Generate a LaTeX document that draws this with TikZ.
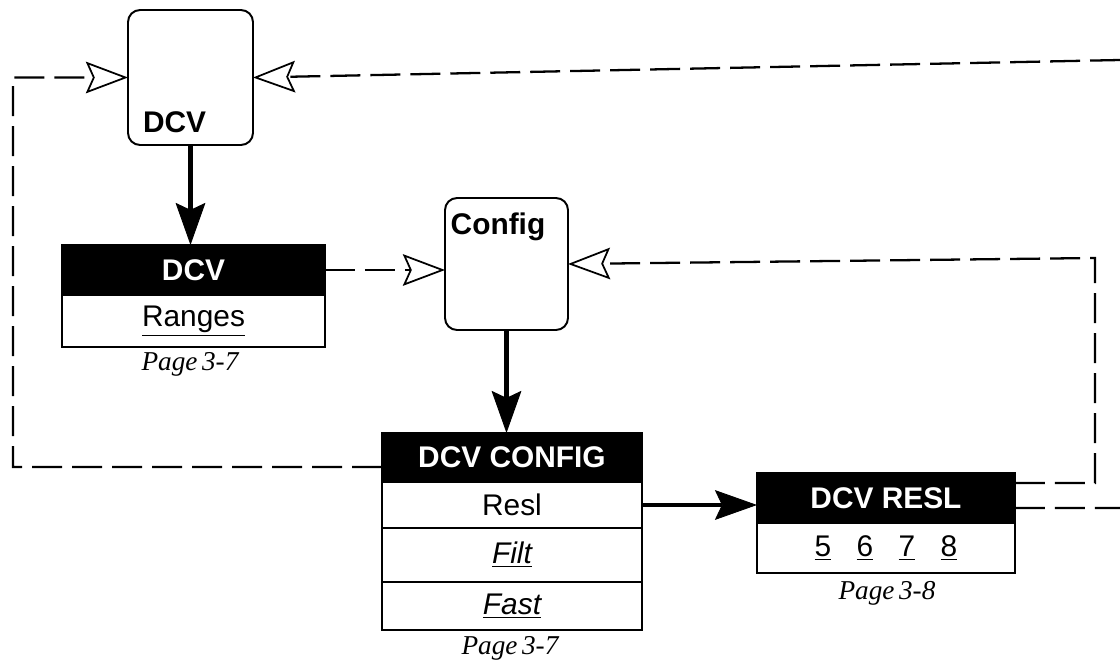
\documentclass[tikz,border=0pt]{standalone}
\usepackage{fontspec}
\newfontfamily\hvfont{Liberation Sans}
\newfontfamily\tmfont{Liberation Serif}
\usetikzlibrary{arrows.meta,calc}
\begin{document}
\begin{tikzpicture}[x=0.02cm,y=-0.02cm,
  every node/.style={inner sep=0pt, outer sep=0pt},
  sfont/.style={font=\hvfont\fontsize{17}{20}\selectfont},
  bfont/.style={font=\hvfont\bfseries\fontsize{17}{20}\selectfont},
  keybox/.style={draw, rounded corners=0.24cm, line width=1.1pt, fill=white},
  hdr/.style={draw, fill=black, text=white, line width=1pt, bfont},
  row/.style={draw, fill=white, line width=1pt, sfont},
  pagelbl/.style={font=\tmfont\itshape\fontsize{15.5}{18}\selectfont, anchor=base},
  flow/.style={line width=2.5pt, -{Stealth[length=24pt,width=17pt,inset=4pt,line width=0.5pt]}},
  link/.style={line width=1.3pt, dash pattern=on 0.6cm off 0.2cm, -{Stealth[open,fill=white,length=24pt,width=18pt,inset=4pt,line width=1pt]}},
  loopline/.style={line width=1.3pt, dash pattern=on 0.6cm off 0.2cm},
]
\useasboundingbox (0,0) rectangle (1120,663);

% soft keys
\node[keybox, minimum width=2.5cm, minimum height=2.7cm] (dcvtop) at (190.5,77.5) {};
\node[bfont, anchor=base west] (dcvtoplbl) at (143,132) {DCV};
\node[keybox, minimum width=2.46cm, minimum height=2.64cm] (config) at (506.5,264) {};
\node[bfont, anchor=base] (configlbl) at (498,234) {Config};

% DCV menu
\node[hdr, minimum width=5.26cm, minimum height=1.0cm] (dcvhdr) at (193.5,270) {DCV};
\node[row, minimum width=5.26cm, minimum height=1.04cm, anchor=north] (ranges) at (dcvhdr.south) {\underline{Ranges}};
\node[pagelbl] (pg1) at (190,370) {Page\,3-7};

% DCV CONFIG menu
\node[hdr, minimum width=5.2cm, minimum height=0.98cm] (cfghdr) at (512,457.5) {DCV CONFIG};
\node[row, minimum width=5.2cm, minimum height=0.92cm, anchor=north] (resl) at (cfghdr.south) {Resl};
\node[row, minimum width=5.2cm, minimum height=1.08cm, anchor=north] (filt) at (resl.south) {\underline{\itshape Filt}};
\node[row, minimum width=5.2cm, minimum height=0.96cm, anchor=north] (fast) at (filt.south) {\underline{\itshape Fast}};
\node[pagelbl] (pg2) at (510,654) {Page\,3-7};

% DCV RESL menu
\node[hdr, minimum width=5.16cm, minimum height=1.0cm] (reslhdr) at (886,498) {DCV RESL};
\node[row, minimum width=5.16cm, minimum height=1.0cm, anchor=north] (digits) at (reslhdr.south) {\underline{5}\hspace{0.85em}\underline{6}\hspace{0.85em}\underline{7}\hspace{0.85em}\underline{8}};
\node[pagelbl] (pg3) at (887,599) {Page\,3-8};

% solid flow arrows
\draw[flow] (dcvtop.south) -- (dcvtop.south |- dcvhdr.north);
\draw[flow] (config.south) -- (config.south |- cfghdr.north);
\draw[flow] (resl.east) -- (resl.east -| reslhdr.west);

% dashed return paths
\coordinate (lc2) at (13,467);
\coordinate (lc1) at (13,77.5);
\draw[link] ([yshift=-0.19cm]cfghdr.west) -- (lc2) -- (lc1) -- (dcvtop.west);

\coordinate (rtop) at (1120,60);
\draw[link] (rtop) -- (dcvtop.east);

\draw[link] (dcvhdr.east) -- (dcvhdr.east -| config.west);

\coordinate (rc1) at (1095,483);
\coordinate (rc2) at (1095,258);
\draw[link] ([yshift=0.3cm]reslhdr.east) -- (rc1) -- (rc2) -- (config.east);

\coordinate (rlow) at (1120,508);
\draw[loopline] ([yshift=-0.2cm]reslhdr.east) -- (rlow);
\end{tikzpicture}
\end{document}
